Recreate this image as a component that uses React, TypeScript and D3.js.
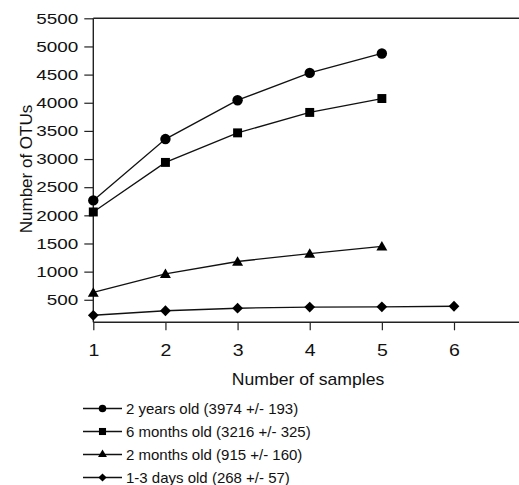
import { useEffect, useRef } from 'react';
import * as d3 from 'd3';

const samples = [1, 2, 3, 4, 5, 6];
const yTicks = [500, 1000, 1500, 2000, 2500, 3000, 3500, 4000, 4500, 5000, 5500];

const twoYears = [2265, 3355, 4045, 4530, 4875];
const sixMonths = [2060, 2940, 3465, 3828, 4075];
const twoMonths = [630, 960, 1180, 1320, 1450];
const oneToThreeDays = [225, 305, 350, 370, 375, 385];

const seriesNames = [
  '2 years old (3974 +/- 193)',
  '6 months old (3216 +/- 325)',
  '2 months old (915 +/- 160)',
  '1-3 days old (268 +/- 57)',
];
const seriesShapes = ['circle', 'square', 'triangle', 'diamond'];

const App = () => {
  const svgRef = useRef<SVGSVGElement>(null);

  useEffect(() => {
    if (!svgRef.current) return;
    const svg = d3.select(svgRef.current);
    svg.selectAll('*').remove();

    const font = 'Liberation Sans, Arial, sans-serif';
    const x = d3.scaleLinear().domain([1, 6]).range([93.3, 454]);
    const y = d3.scaleLinear().domain([100, 5500]).range([322.3, 18.3]);

    // diamond = rotated square, the others from d3
    const symbolFor = (shape: string, size: number) => {
      const type =
        shape === 'circle' ? d3.symbolCircle :
        shape === 'triangle' ? d3.symbolTriangle : d3.symbolSquare;
      return d3.symbol().type(type).size(size)();
    };
    const sizes: Record<string, number> = { circle: 85, square: 80, triangle: 52, diamond: 58 };
    const legendSizes: Record<string, number> = { circle: 45, square: 50, triangle: 34, diamond: 34 };
    const rot = (shape: string) => (shape === 'diamond' ? ' rotate(45)' : '');

    // axes
    const yAxis = svg.append('g').attr('transform', `translate(${x(1)},0)`)
      .call(d3.axisLeft(y).tickValues(yTicks).tickFormat(d3.format('d')).tickSize(9).tickSizeOuter(0));
    yAxis.select('.domain').remove();
    yAxis.selectAll('.tick line').attr('stroke', '#222').attr('stroke-width', 1.2);
    yAxis.selectAll('.tick text').attr('font-family', font).attr('font-size', 15)
      .attr('fill', '#111').attr('x', 0).attr('transform', 'translate(-15,0) scale(1.26,1)');
    svg.append('line').attr('x1', x(1)).attr('x2', x(1)).attr('y1', y(5500)).attr('y2', y(100))
      .attr('stroke', '#222').attr('stroke-width', 1.4);

    // top border
    svg.append('line').attr('x1', x(1)).attr('x2', 519).attr('y1', y(5500)).attr('y2', y(5500))
      .attr('stroke', '#222').attr('stroke-width', 1.4);

    const xAxis = svg.append('g').attr('transform', `translate(0,${y(100)})`)
      .call(d3.axisBottom(x).tickValues(samples).tickFormat(d3.format('d')).tickSize(8).tickSizeOuter(0));
    xAxis.select('.domain').remove();
    xAxis.selectAll('.tick line').attr('stroke', '#222').attr('stroke-width', 1.2);
    xAxis.selectAll('.tick text').attr('font-family', font).attr('font-size', 16)
      .attr('fill', '#111').attr('y', 0).attr('dy', 0)
      .attr('transform', 'translate(0,33.5) scale(1.22,1)');
    svg.append('line').attr('x1', x(1)).attr('x2', 519).attr('y1', y(100)).attr('y2', y(100))
      .attr('stroke', '#222').attr('stroke-width', 1.4);

    // axis titles
    svg.append('text').attr('transform', 'translate(308,385) scale(1.1,1)').attr('text-anchor', 'middle')
      .attr('font-family', font).attr('font-size', 16).attr('fill', '#111').text('Number of samples');
    svg.append('text').attr('transform', 'translate(31.5,169) rotate(-90)').attr('text-anchor', 'middle')
      .attr('font-family', font).attr('font-size', 17).attr('fill', '#111').text('Number of OTUs');

    // series
    const allSeries = [twoYears, sixMonths, twoMonths, oneToThreeDays];
    const line = d3.line<number>().x((_, i) => x(samples[i])).y(d => y(d));
    allSeries.forEach((vals, si) => {
      const shape = seriesShapes[si];
      svg.append('path').datum(vals).attr('d', line).attr('fill', 'none')
        .attr('stroke', '#111').attr('stroke-width', 1.3);
      svg.append('g').selectAll('path').data(vals).enter().append('path')
        .attr('d', symbolFor(shape, sizes[shape]))
        .attr('transform', (d, i) =>
          `translate(${x(samples[i])},${y(d) + (shape === 'triangle' ? 1 : 0)})${rot(shape)}`)
        .attr('fill', '#000');
    });

    // legend
    const legend = svg.append('g');
    seriesNames.forEach((name, i) => {
      const ly = 408.5 + i * 23;
      const shape = seriesShapes[i];
      legend.append('line').attr('x1', 83).attr('x2', 122).attr('y1', ly).attr('y2', ly)
        .attr('stroke', '#111').attr('stroke-width', 1.3);
      legend.append('path').attr('d', symbolFor(shape, legendSizes[shape]))
        .attr('transform', `translate(102.5,${ly})${rot(shape)}`).attr('fill', '#000');
      legend.append('text').attr('x', 126).attr('y', ly + 5.5)
        .attr('font-family', font).attr('font-size', 15).attr('fill', '#111').text(name);
    });
  }, []);

  return (
    <svg ref={svgRef} width={519} height={485}
      style={{ position: 'absolute', left: 0, top: 0, background: '#fff' }} />
  );
};

export default App;
